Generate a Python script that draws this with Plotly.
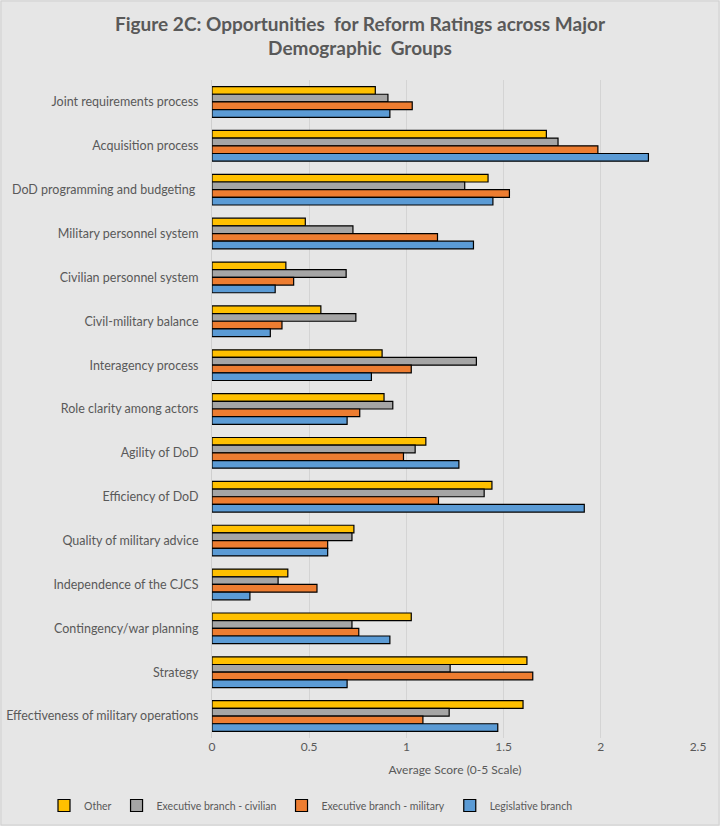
import plotly.graph_objects as go

# categories, top to bottom as drawn
categories = [
    "Joint requirements process",
    "Acquisition process",
    "DoD programming and budgeting ",
    "Military personnel system",
    "Civilian personnel system",
    "Civil-military balance",
    "Interagency process",
    "Role clarity among actors",
    "Agility of DoD",
    "Efficiency of DoD",
    "Quality of military advice",
    "Independence of the CJCS",
    "Contingency/war planning",
    "Strategy",
    "Effectiveness of military operations",
]

other = [0.84, 1.72, 1.42, 0.48, 0.38, 0.56, 0.875, 0.885, 1.10, 1.44, 0.73, 0.39, 1.025, 1.62, 1.60]
exec_civilian = [0.905, 1.78, 1.30, 0.725, 0.69, 0.74, 1.36, 0.93, 1.045, 1.40, 0.72, 0.34, 0.72, 1.225, 1.22]
exec_military = [1.03, 1.985, 1.53, 1.16, 0.42, 0.36, 1.025, 0.76, 0.985, 1.165, 0.595, 0.54, 0.755, 1.65, 1.085]
legislative = [0.915, 2.245, 1.445, 1.345, 0.325, 0.30, 0.82, 0.695, 1.27, 1.915, 0.595, 0.195, 0.915, 0.695, 1.47]

series = [
    ("Other", other, "#ffc000"),
    ("Executive branch - civilian", exec_civilian, "#a5a5a5"),
    ("Executive branch - military", exec_military, "#ed7d31"),
    ("Legislative branch", legislative, "#5b9bd5"),
]

FONT = "Lato"
GREY = "#595959"
L, R, T, B = 212, 22, 80, 88
PW, PH = 720 - L - R, 826 - T - B

fig = go.Figure()
for name, vals, col in series:
    fig.add_bar(y=categories, x=vals, name=name, orientation="h",
                marker=dict(color=col, line=dict(color="black", width=1.2)))

fig.update_layout(
    width=720, height=826,
    paper_bgcolor="#e6e6e6", plot_bgcolor="#e6e6e6",
    font=dict(family=FONT, color=GREY, size=12),
    title=dict(text="<b>Figure 2C: Opportunities  for Reform Ratings across Major<br>Demographic  Groups</b>",
               x=0.5, xanchor="center", y=0.963, yanchor="top",
               font=dict(family=FONT, size=19, color=GREY)),
    barmode="group", bargap=0.3, bargroupgap=0,
    margin=dict(l=L, r=R, t=T, b=B, autoexpand=False),
    showlegend=True,
    legend=dict(orientation="h", x=(44 - L) / PW, xanchor="left", y=-53 / PH, yanchor="top",
                font=dict(size=10.5, color=GREY), traceorder="normal",
                itemwidth=30, bgcolor="rgba(0,0,0,0)"),
)
fig.update_xaxes(range=[0, 2.5], dtick=0.5, showgrid=True, gridcolor="#d4d4d4", gridwidth=1,
                 zeroline=False, showline=False, ticks="", automargin=False,
                 title=dict(text="Average Score (0-5 Scale)", standoff=12,
                            font=dict(size=12, color=GREY)),
                 tickfont=dict(size=12, color=GREY))
fig.update_yaxes(autorange="reversed", showgrid=False, showline=True, linecolor="#cfcfcf",
                 ticks="", automargin=False, ticklabelstandoff=10,
                 tickfont=dict(size=12.5, color=GREY))

# thin frame around the chart area
fig.add_shape(type="rect", xref="paper", yref="paper",
              x0=-(L - 1) / PW, x1=1 + (R - 1) / PW, y0=-(B - 1) / PH, y1=1 + (T - 1) / PH,
              line=dict(color="#d0d0d0", width=1), fillcolor="rgba(0,0,0,0)", layer="below")

# the page's default body margin would shift the chart 8px
fig.write_html("out.html", config={"displayModeBar": False},
               post_script="document.body.style.margin='0px';")
